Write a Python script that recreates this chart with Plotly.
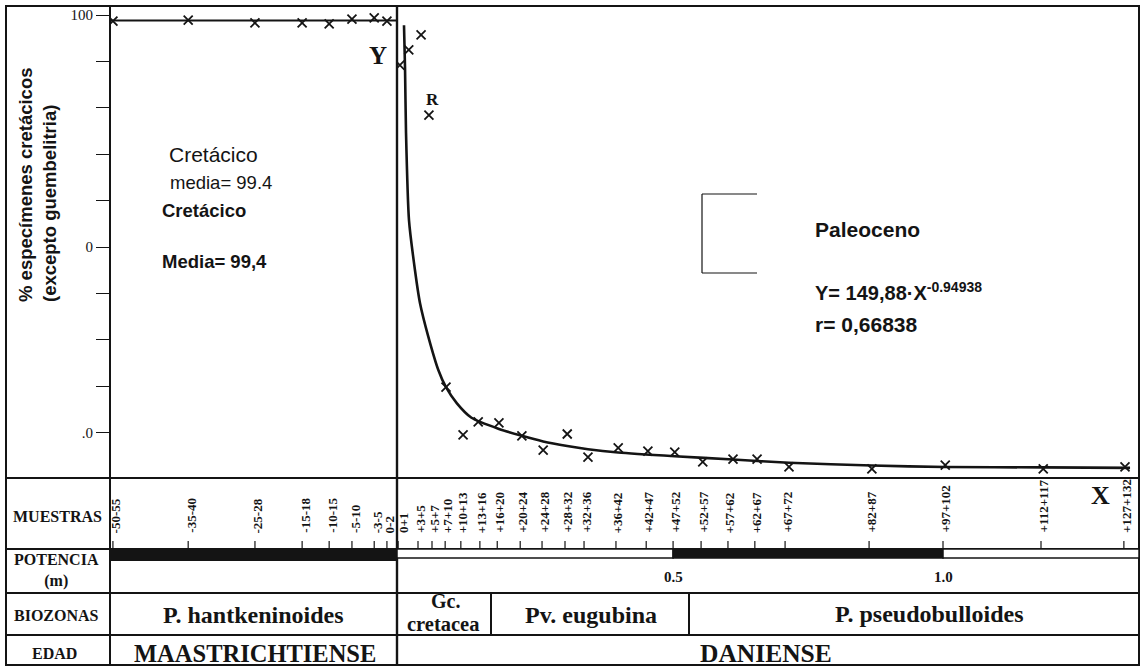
import plotly.graph_objects as go

W, H = 1145, 670

# ---------------- data ----------------
# Maastrichtian samples (left panel), position in cm below the boundary
maas_samples = ["-50-55", "-35-40", "-25-28", "-15-18", "-10-15", "-5-10", "-3-5", "0-2"]
maas_pos = [-53.6, -39.4, -26.8, -17.9, -12.8, -8.5, -4.3, -1.9]
maas_pct = [98.7, 98.9, 98.3, 98.3, 98.1, 99.1, 99.4, 98.7]
maas_mean = 98.8

# Danian samples (right panel), position in cm above the boundary
dan_samples = ["0+1", "+3+5", "+5+7", "+7+10", "+10+13", "+13+16", "+16+20", "+20+24",
               "+24+28", "+28+32", "+32+36", "+36+42", "+42+47", "+47+52", "+52+57",
               "+57+62", "+62+67", "+67+72", "+82+87", "+97+102", "+112+117", "+127+132"]
dan_sample_pos = [0.2, 3.75, 6.25, 8.6, 11.4, 14.8, 17.9, 22.0, 25.9, 30.0, 33.4, 39.1,
                  44.5, 49.3, 54.3, 59.1, 63.9, 69.3, 84.3, 97.5, 115.0, 129.8]

dan_point_pos = [0.5, 2.1, 4.3, 5.7, 8.75, 11.8, 14.5, 18.2, 22.3, 26.1, 30.4, 34.1, 39.5,
                 44.8, 49.6, 54.6, 60.0, 64.3, 70.0, 84.8, 97.9, 115.4, 130.0]
dan_point_pct = [89.2, 92.5, 95.7, 78.4, 19.8, 9.5, 12.3, 12.1, 9.3, 6.25, 9.7, 4.7, 6.7,
                 6.0, 5.8, 3.7, 4.3, 4.3, 2.6, 2.2, 3.0, 2.2, 2.6]

# fitted curve
fit_pos = [1.25, 1.43, 1.61, 2.14, 3.21, 4.11, 5.59, 7.38, 8.7, 10.7, 13.3, 18.2,
           22.3, 26.1, 30.4, 34.1, 39.5, 49.6, 60.0, 70.0, 84.8, 97.9, 115.4, 130.9]
fit_pct = [97.8, 88.8, 74.6, 55.8, 45.0, 37.9, 30.7, 23.5, 19.9, 16.3, 13.2, 10.8,
           9.3, 8.1, 7.1, 6.4, 5.7, 4.9, 4.2, 3.5, 2.9, 2.6, 2.5, 2.4]

# potencia (m) marks on the Danian side
pot_pos = [49.3, 97.5]
pot_labels = ["0.5", "1.0"]

# y tick labels as printed
y_tickvals = [10, 20, 30, 40, 50, 60, 70, 80, 90, 100]
y_ticktext = [".0", " ", " ", " ", "0", " ", " ", " ", " ", "100"]

# biozones / ages
biozones = ["P. hantkeninoides", "Gc.", "cretacea", "Pv. eugubina", "P. pseudobulloides"]
ages = ["MAASTRICHTIENSE", "DANIENSE"]
row_labels = ["MUESTRAS", "POTENCIA<br>(m)", "BIOZONAS", "EDAD"]

# ---------------- helpers (layout geometry in pixels) ----------------
def PX(px):
    return px / W

def PY(py):
    return 1 - py / H

INK = "#141414"
SERIF = "Liberation Serif"
SANS = "Liberation Sans"

fig = go.Figure()

fig.add_trace(go.Scatter(
    x=maas_pos, y=maas_pct, mode="markers", xaxis="x", yaxis="y",
    marker=dict(symbol="x-thin", size=9, line=dict(width=1.8, color=INK)),
    showlegend=False, hoverinfo="skip"))

fig.add_trace(go.Scatter(
    x=fit_pos, y=fit_pct, mode="lines", xaxis="x2", yaxis="y",
    line=dict(color=INK, width=2.6, shape="spline", smoothing=0.6, simplify=False),
    cliponaxis=False, showlegend=False, hoverinfo="skip"))

fig.add_trace(go.Scatter(
    x=dan_point_pos, y=dan_point_pct, mode="markers", xaxis="x2", yaxis="y",
    marker=dict(symbol="x-thin", size=9, line=dict(width=1.8, color=INK)),
    showlegend=False, hoverinfo="skip"))

shapes = []

def line(x0, y0, x1, y1, w=2, xref="paper"):
    shapes.append(dict(type="line", xref=xref, yref="paper",
                       x0=x0, y0=y0, x1=x1, y1=y1,
                       line=dict(color=INK, width=w)))

# mean line of the Cretaceous
shapes.append(dict(type="line", xref="x domain", yref="y", x0=0, x1=1,
                   y0=maas_mean, y1=maas_mean, line=dict(color=INK, width=2)))

# outer frame
shapes.append(dict(type="rect", xref="paper", yref="paper",
                   x0=PX(6), x1=PX(1139), y0=PY(665), y1=PY(6),
                   line=dict(color=INK, width=2)))
# vertical dividers
line(PX(110), PY(6), PX(110), PY(665), 2)
line(PX(397), PY(6), PX(397), PY(665), 2.4)
line(PX(491), PY(593), PX(491), PY(635), 2)
line(PX(689), PY(593), PX(689), PY(635), 2)
# horizontal rows
for py in [478, 549, 593, 635]:
    line(PX(6), PY(py), PX(1139), PY(py), 2)

# potencia bar
shapes.append(dict(type="rect", xref="x domain", yref="paper", x0=0, x1=1,
                   y0=PY(561), y1=PY(549), fillcolor=INK, line=dict(width=0)))
shapes.append(dict(type="rect", xref="x2", yref="paper", x0=0, x1=pot_pos[0],
                   y0=PY(558), y1=PY(549), fillcolor="white", line=dict(color=INK, width=1.5)))
shapes.append(dict(type="rect", xref="x2", yref="paper", x0=pot_pos[0], x1=pot_pos[1],
                   y0=PY(558), y1=PY(549), fillcolor=INK, line=dict(color=INK, width=1.5)))
shapes.append(dict(type="rect", xref="x2", yref="paper", x0=pot_pos[1], x1=132.5,
                   y0=PY(558), y1=PY(549), fillcolor="white", line=dict(color=INK, width=1.5)))

# sample tick marks
for p in maas_pos:
    line(p, PY(541), p, PY(549), 1.2, xref="x")
for p in dan_sample_pos:
    line(p, PY(541), p, PY(549), 1.2, xref="x2")

# bracket
line(PX(702), PY(194), PX(757), PY(194), 1.2)
line(PX(702), PY(194), PX(702), PY(273), 1.2)
line(PX(702), PY(273), PX(757), PY(273), 1.2)

annotations = []

def ann(text, x, y, size, family=SANS, xref="paper", xanchor="center", yanchor="middle",
        angle=0, align="center", xshift=0):
    annotations.append(dict(text=text, x=x, y=y, xref=xref, yref="paper",
                            xanchor=xanchor, yanchor=yanchor, textangle=angle,
                            align=align, showarrow=False, xshift=xshift,
                            font=dict(family=family, size=size, color=INK)))

# sample labels
for s, p in zip(maas_samples, maas_pos):
    ann("<b>%s</b>" % s, p, PY(535), 13, SERIF, xref="x", yanchor="bottom", angle=-90, xshift=3)
for i, (s, p) in enumerate(zip(dan_samples, dan_sample_pos)):
    ann("<b>%s</b>" % s, p, PY(535), 13, SERIF, xref="x2", yanchor="bottom", angle=-90,
        xshift=5 if i == 0 else 2)

# potencia labels
for s, p in zip(pot_labels, pot_pos):
    ann("<b>%s</b>" % s, p, PY(577), 15, SERIF, xref="x2")

# row labels
ann("<b>%s</b>" % row_labels[0], PX(57), PY(516), 16, SERIF)
ann("<b>%s</b>" % row_labels[1], PX(56), PY(570), 16, SERIF)
ann("<b>%s</b>" % row_labels[2], PX(56), PY(615), 16, SERIF)
ann("<b>%s</b>" % row_labels[3], PX(54), PY(653), 16, SERIF)

# biozones
ann("<b>%s</b>" % biozones[0], PX(253), PY(615), 24, SERIF)
ann("<b>%s</b>" % biozones[1], PX(445), PY(601), 20, SERIF)
ann("<b>%s</b>" % biozones[2], PX(443), PY(624), 20.5, SERIF)
ann("<b>%s</b>" % biozones[3], PX(591), PY(615), 24, SERIF)
ann("<b>%s</b>" % biozones[4], PX(929), PY(614), 24, SERIF)

# ages
ann("<b>%s</b>" % ages[0], PX(255), PY(653), 24.5, SERIF)
ann("<b>%s</b>" % ages[1], PX(766), PY(653), 25.5, SERIF)

# y axis title
ann("<b>% especímenes cretácicos<br>(excepto guembelitria)</b>", PX(37), PY(304), 18.5, SANS,
    yanchor="bottom", angle=-90, align="left")

# in-plot texts
ann("Cretácico", PX(167), PY(154), 21, SANS, xanchor="left")
ann("media= 99.4", PX(168), PY(182), 18.5, SANS, xanchor="left")
ann("<b>Cretácico</b>", PX(160), PY(210), 18.5, SANS, xanchor="left")
ann("<b>Media= 99,4</b>", PX(160), PY(261), 18.5, SANS, xanchor="left")
ann("<b>Paleoceno</b>", PX(813), PY(229), 21, SANS, xanchor="left")
ann("<b>Y= 149,88·X<sup>-0.94938</sup></b>", PX(813), PY(291), 20, SANS, xanchor="left")
ann("<b>r= 0,66838</b>", PX(813), PY(325), 21, SANS, xanchor="left")
ann("<b>Y</b>", PX(378), PY(56), 25, SERIF)
ann("<b>R</b>", PX(432), PY(100), 17, SERIF)
ann("<b>X</b>", PX(1100), PY(495), 26, SERIF)

fig.update_layout(
    width=W, height=H, autosize=False,
    margin=dict(l=0, r=0, t=0, b=0),
    paper_bgcolor="white", plot_bgcolor="white",
    shapes=shapes, annotations=annotations,
    xaxis=dict(domain=[PX(110), PX(397)], range=[-54.15, 0], visible=False),
    xaxis2=dict(domain=[PX(397), PX(1139)], range=[0, 132.5], anchor="y", visible=False),
    yaxis=dict(domain=[PY(478), PY(6)], range=[0.22, 101.94], anchor="x",
               tickvals=y_tickvals, ticktext=y_ticktext, ticks="outside", ticklen=13,
               tickwidth=1.2, tickcolor=INK, showgrid=False, zeroline=False, showline=False,
               tickfont=dict(family=SERIF, size=15, color=INK)),
)

fig.write_html("out.html", config={"displayModeBar": False},
               post_script="document.body.style.margin='0';document.body.style.overflow='hidden';")
